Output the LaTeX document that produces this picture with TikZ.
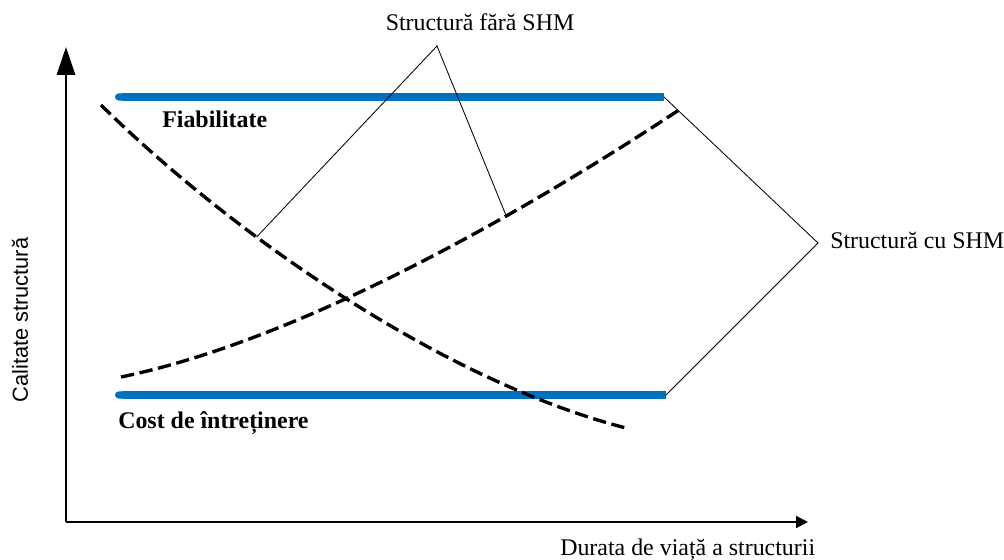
\documentclass[tikz,border=0pt]{standalone}
\usepackage{fontspec}
\setmainfont{Liberation Serif}
\setsansfont{Liberation Sans}
\usetikzlibrary{arrows.meta, positioning}
\definecolor{shmblue}{RGB}{0,112,192}

\begin{document}
\begin{tikzpicture}[
    x=0.25mm, y=-0.25mm,
    lbl/.style={font=\fontsize{17}{20}\selectfont, inner sep=0pt},
    bar/.style={line width=5pt, shmblue, {Round Cap[]}-},
    curve/.style={line width=2.4pt, dash pattern=on 9.5pt off 4pt},
    pointer/.style={line width=0.6pt},
    axis/.style={line width=1.4pt}
]
    \useasboundingbox (0,0) rectangle (1004,560);

    % Axes
    \coordinate (o) at (66,522);
    \coordinate (ytip) at (66,47);
    \coordinate (xtip) at (808,522);
    \draw[axis, -{Triangle[length=7mm, width=4.6mm]}] (o) -- (ytip);
    \draw[axis, -{Triangle[length=3mm, width=3mm]}] (o) -- (xtip);
    \node[lbl, font=\sffamily\fontsize{15.5}{18}\selectfont, rotate=90] (ylab) at (20,320) {Calitate structură};
    \node[lbl, anchor=base west] (xlab) at (560,555) {Durata de viață a structurii};

    % Structura cu SHM
    \coordinate (f1) at (115,97);
    \coordinate (f2) at (664,97);
    \coordinate (c1) at (115,395);
    \coordinate (c2) at (666,395);
    \draw[bar] (f1) -- (f2);
    \draw[bar] (c1) -- (c2);
    \node[lbl, font=\bfseries\fontsize{17}{20}\selectfont, anchor=base west] (fiab) at (162,128) {Fiabilitate};
    \node[lbl, font=\bfseries\fontsize{17}{20}\selectfont, anchor=base west] (cost) at (118,428) {Cost de întreținere};

    % Structura fara SHM
    \coordinate (d0) at (101,105);
    \coordinate (d3) at (626,428);
    \coordinate (i0) at (121,377);
    \coordinate (i3) at (682,108);
    \draw[curve] (d0) .. controls (230,232) and (440,380) .. (d3) coordinate[pos=0.34] (d1);
    \draw[curve] (i0) .. controls (300,340) and (520,215) .. (i3) coordinate[pos=0.67] (i1);

    % Pointers
    \coordinate (apexfara) at (437,46);
    \coordinate (apexcu) at (818,243);
    \node[lbl, anchor=base] (fara) at (480,31) {Structură fără SHM};
    \node[lbl, anchor=base west] (cu) at (830,248) {Structură cu SHM};
    \draw[pointer] (d1) -- (apexfara) -- (i1);
    \draw[pointer] (f2) -- (apexcu) -- (c2);
\end{tikzpicture}
\end{document}
